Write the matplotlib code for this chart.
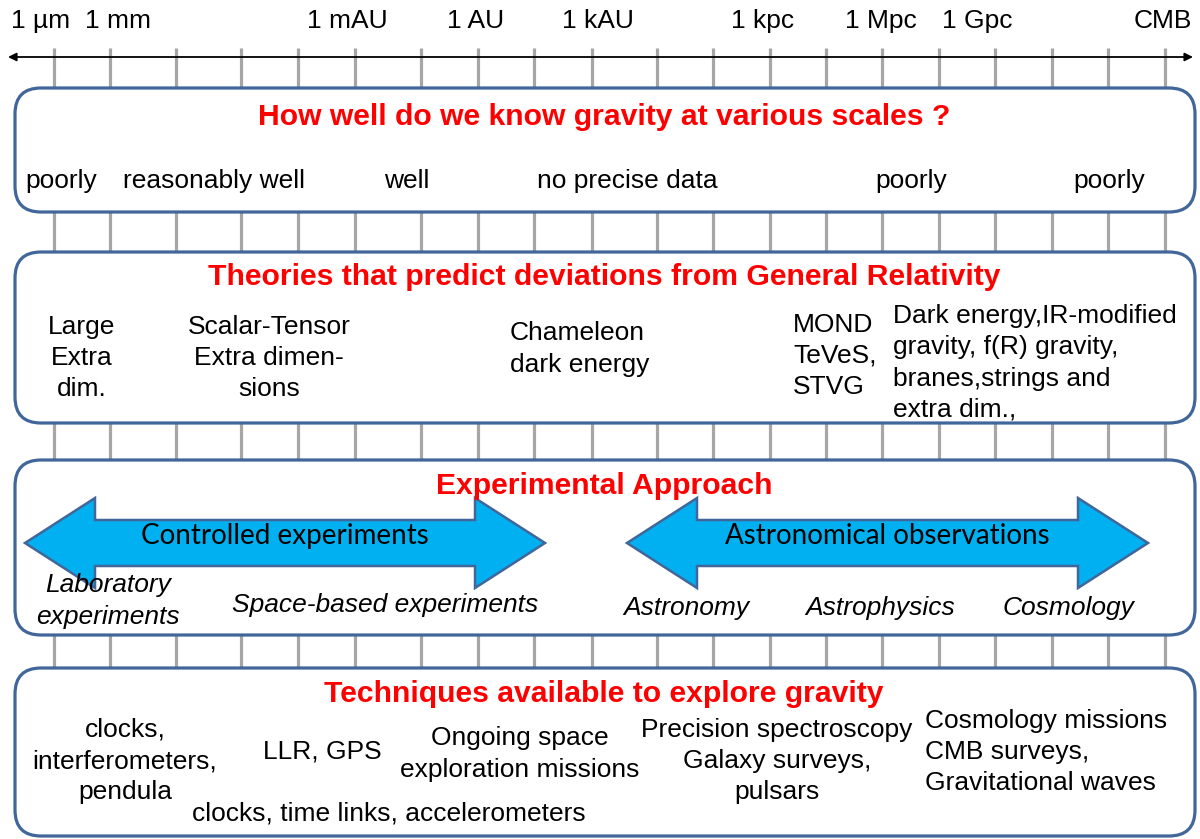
#!/usr/bin/env python
# Gravity at various scales - schematic overview

import numpy as np
import matplotlib
matplotlib.use("Agg")
import matplotlib.pyplot as plt
from matplotlib import font_manager
from matplotlib.patches import FancyBboxPatch, Polygon

# scale axis
grid_x = [54, 110, 176, 241, 298, 355, 421, 478, 534, 592,
          657, 713, 770, 826, 882, 939, 995, 1052, 1108, 1165]
scale_labels = ['1 µm', '1 mm', '1 mAU', '1 AU', '1 kAU', '1 kpc', '1 Mpc', '1 Gpc', 'CMB']
scale_x = [41, 118, 347, 476, 598, 763, 881, 977, 1163]

# panels: (top, bottom, title, title y)
panel_top = [88, 252, 460, 668]
panel_bottom = [212, 423, 635, 836]
panel_title = ['How well do we know gravity at various scales ?',
               'Theories that predict deviations from General Relativity',
               'Experimental Approach',
               'Techniques available to explore gravity']
panel_title_y = [117, 277, 486, 694]

# panel 1
know_labels = ['poorly', 'reasonably well', 'well', 'no precise data', 'poorly', 'poorly']
know_x = [61, 214, 407, 627, 911, 1109]

# panel 2
theory_labels = ['Large\nExtra\ndim.', 'Scalar-Tensor\nExtra dimen-\nsions',
                 'Chameleon\ndark energy', 'MOND\nTeVeS,\nSTVG',
                 'Dark energy,IR-modified\ngravity, f(R) gravity,\nbranes,strings and\nextra dim.,']
theory_x = [82, 269, 510, 793, 893]
theory_y = [358, 358, 349, 356, 363]
theory_ha = ['center', 'center', 'left', 'left', 'left']

# panel 3
arrow_labels = ['Controlled experiments', 'Astronomical observations']
arrow_start = [25, 627]
arrow_end = [545, 1148]
approach_labels = ['Laboratory\nexperiments', 'Space-based experiments',
                   'Astronomy', 'Astrophysics', 'Cosmology']
approach_x = [108, 385, 686, 880, 1068]
approach_y = [601, 605, 608, 608, 608]

# panel 4
tech_labels = ['clocks,\ninterferometers,\npendula', 'LLR, GPS',
               'Ongoing space\nexploration missions', 'clocks, time links, accelerometers',
               'Precision spectroscopy\nGalaxy surveys,\npulsars',
               'Cosmology missions\nCMB surveys,\nGravitational waves']
tech_x = [125, 322, 520, 389, 777, 925]
tech_y = [761, 751, 754, 813, 761, 752]
tech_ha = ['center', 'center', 'center', 'center', 'center', 'left']

plt.rcParams['font.family'] = ['Liberation Sans', 'DejaVu Sans']

edge = '#41669A'
grey = '#A6A6A6'
body = 19
lsp = 1.38

fig = plt.figure(figsize=(12, 8.39), dpi=100)
ax = fig.add_axes([0, 0, 1, 1])
ax.set_xlim(0, 1200)
ax.set_ylim(839, 0)
ax.axis('off')

# grey scale lines behind the panels
ax.vlines(grid_x, 48, 836, color=grey, lw=2.3, zorder=1)

# scale arrow and labels
ax.annotate('', xy=(8, 57), xytext=(1193, 57),
            arrowprops=dict(arrowstyle='<|-|>', color='black', lw=1.3,
                            mutation_scale=12, shrinkA=0, shrinkB=0), zorder=3)
for lab, x in zip(scale_labels, scale_x):
    ax.text(x, 21, lab, ha='center', va='center', fontsize=body)

# panels
for top, bot, title, ty in zip(panel_top, panel_bottom, panel_title, panel_title_y):
    box = FancyBboxPatch((15, top), 1180, bot - top,
                         boxstyle='round,pad=0,rounding_size=26',
                         facecolor='white', edgecolor=edge, lw=2.3, zorder=2)
    ax.add_patch(box)
    ax.text(604, ty, title, ha='center', va='center', color='#FF0000',
            fontsize=21.7, fontweight='bold', zorder=4)

for lab, x in zip(know_labels, know_x):
    ax.text(x, 181, lab, ha='center', va='center', fontsize=body, zorder=4)

for lab, x, y, ha in zip(theory_labels, theory_x, theory_y, theory_ha):
    ax.text(x, y, lab, ha=ha, va='center', multialignment=ha,
            fontsize=body, linespacing=lsp, zorder=4)

# double-headed block arrows
ymid, shaft, head, hlen = 543, 23, 45, 70
for x0, x1, lab in zip(arrow_start, arrow_end, arrow_labels):
    pts = [(x0, ymid), (x0 + hlen, ymid - head), (x0 + hlen, ymid - shaft),
           (x1 - hlen, ymid - shaft), (x1 - hlen, ymid - head), (x1, ymid),
           (x1 - hlen, ymid + head), (x1 - hlen, ymid + shaft),
           (x0 + hlen, ymid + shaft), (x0 + hlen, ymid + head)]
    ax.add_patch(Polygon(pts, closed=True, facecolor='#00B0F0',
                         edgecolor=edge, lw=1.8, zorder=3))
    ax.text((x0 + x1) / 2, 536, lab, ha='center', va='center',
            fontsize=20, family=['Lato', 'DejaVu Sans'], zorder=4)

for lab, x, y in zip(approach_labels, approach_x, approach_y):
    ax.text(x, y, lab, ha='center', va='center', fontsize=body,
            style='italic', linespacing=lsp, zorder=4)

for lab, x, y, ha in zip(tech_labels, tech_x, tech_y, tech_ha):
    ax.text(x, y, lab, ha=ha, va='center', multialignment=ha,
            fontsize=body, linespacing=lsp, zorder=4)

fig.savefig('out.png', dpi=100)
